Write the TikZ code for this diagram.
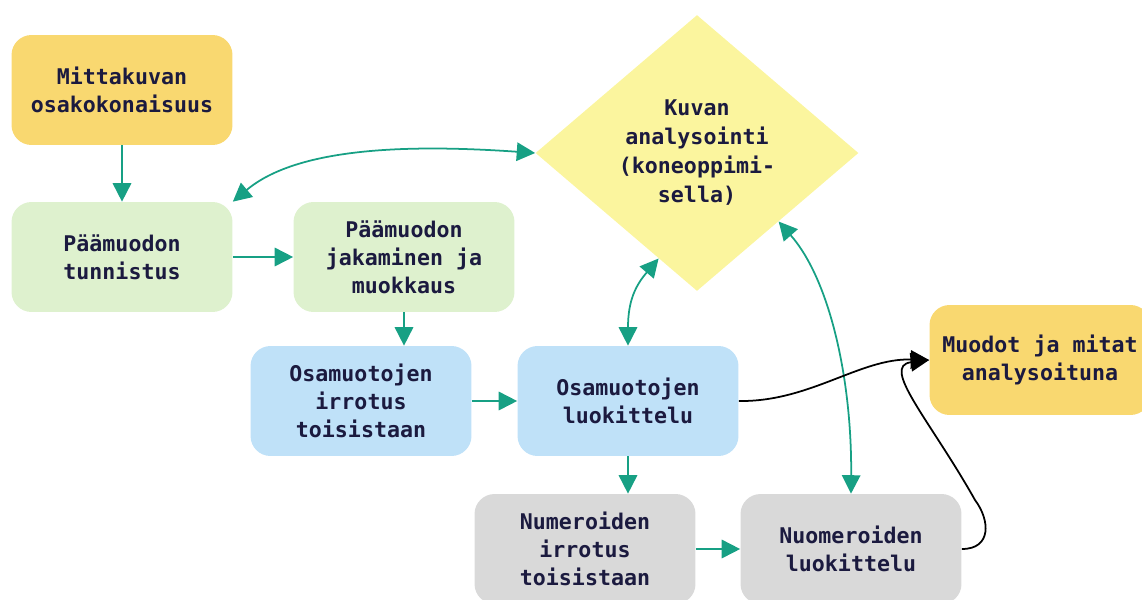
\documentclass[tikz,border=0pt]{standalone}
\usepackage{fontspec}
\setmainfont{DejaVu Sans Mono}
\usetikzlibrary{arrows.meta,shapes.geometric}
\definecolor{ink}{HTML}{1B1A3F}
\definecolor{teal}{HTML}{17A084}
\definecolor{boxyellow}{HTML}{F9D870}
\definecolor{boxgreen}{HTML}{DEF1CE}
\definecolor{boxblue}{HTML}{BFE1F8}
\definecolor{boxgray}{HTML}{D9D9D9}
\definecolor{dmdyellow}{HTML}{FBF59E}
\tikzset{
  stepbox/.style={rectangle, rounded corners=0.4cm, minimum width=4.42cm,
    minimum height=2.2cm, align=center, text=ink, inner sep=2pt,
    font=\fontsize{12.3}{16}\selectfont\bfseries},
  flow/.style={draw=teal, line width=1pt, -{Triangle[length=10.5pt,width=10.5pt]}},
  both/.style={draw=teal, line width=1pt,
    {Triangle[length=10.5pt,width=10.5pt]}-{Triangle[length=10.5pt,width=10.5pt]}},
  result/.style={draw=black, line width=1pt, -{Triangle[length=10.5pt,width=10.5pt]}},
}
\begin{document}
\begin{tikzpicture}[x=0.02cm,y=-0.02cm]
\useasboundingbox (0,0) rectangle (1142,599);

% process steps
\node[stepbox, fill=boxyellow] (mitta) at (122,90) {Mittakuvan\\osakokonaisuus};
\node[stepbox, fill=boxgreen] (tun) at (122,257) {Päämuodon\\tunnistus};
\node[stepbox, fill=boxgreen] (jak) at (404,257) {Päämuodon\\jakaminen ja\\muokkaus};
\node[stepbox, fill=boxblue] (oirr) at (361,401) {Osamuotojen\\irrotus\\toisistaan};
\node[stepbox, fill=boxblue] (oluo) at (628,401) {Osamuotojen\\luokittelu};
\node[stepbox, fill=boxgray] (nirr) at (585,549) {Numeroiden\\irrotus\\toisistaan};
\node[stepbox, fill=boxgray] (nluo) at (851,549) {Nuomeroiden\\luokittelu};
\node[stepbox, fill=boxyellow] (muo) at (1040,360) {Muodot ja mitat\\analysoituna};

% machine-learning analysis
\node[diamond, fill=dmdyellow, minimum width=6.46cm, minimum height=5.52cm,
  inner sep=0pt, align=center, text=ink,
  font=\fontsize{12.3}{16.5}\selectfont\bfseries] (dia) at (697,153)
  {Kuvan\\analysointi\\(koneoppimi-\\sella)};

% straight flow
\draw[flow] (mitta.south) -- (tun.north);
\draw[flow] (tun.east) -- (jak.west);
\draw[flow] (jak.south) -- (jak.south |- oirr.north);
\draw[flow] (oirr.east) -- (oluo.west);
\draw[flow] (oluo.south) -- (oluo.south |- nirr.north);
\draw[flow] (nirr.east) -- (nluo.west);

% exchanges with the analysis step
\draw[both] (tun.north east) .. controls (300,145) and (420,145) .. (dia.west);
\draw[both] (oluo.north) .. controls (628,300) and (636,285) .. (dia.250);
\draw[both] (dia.-40) .. controls (830,280) and (852,380) .. (nluo.north);

% results
\draw[result] (oluo.east) .. controls (810,402) and (860,358) .. (muo.west);
\coordinate (loop) at (975,500);
\draw[result] (nluo.east) .. controls (992,549) and (990,520) .. (loop)
  .. controls (930,420) and (880,366) .. (muo.west);
\end{tikzpicture}
\end{document}
